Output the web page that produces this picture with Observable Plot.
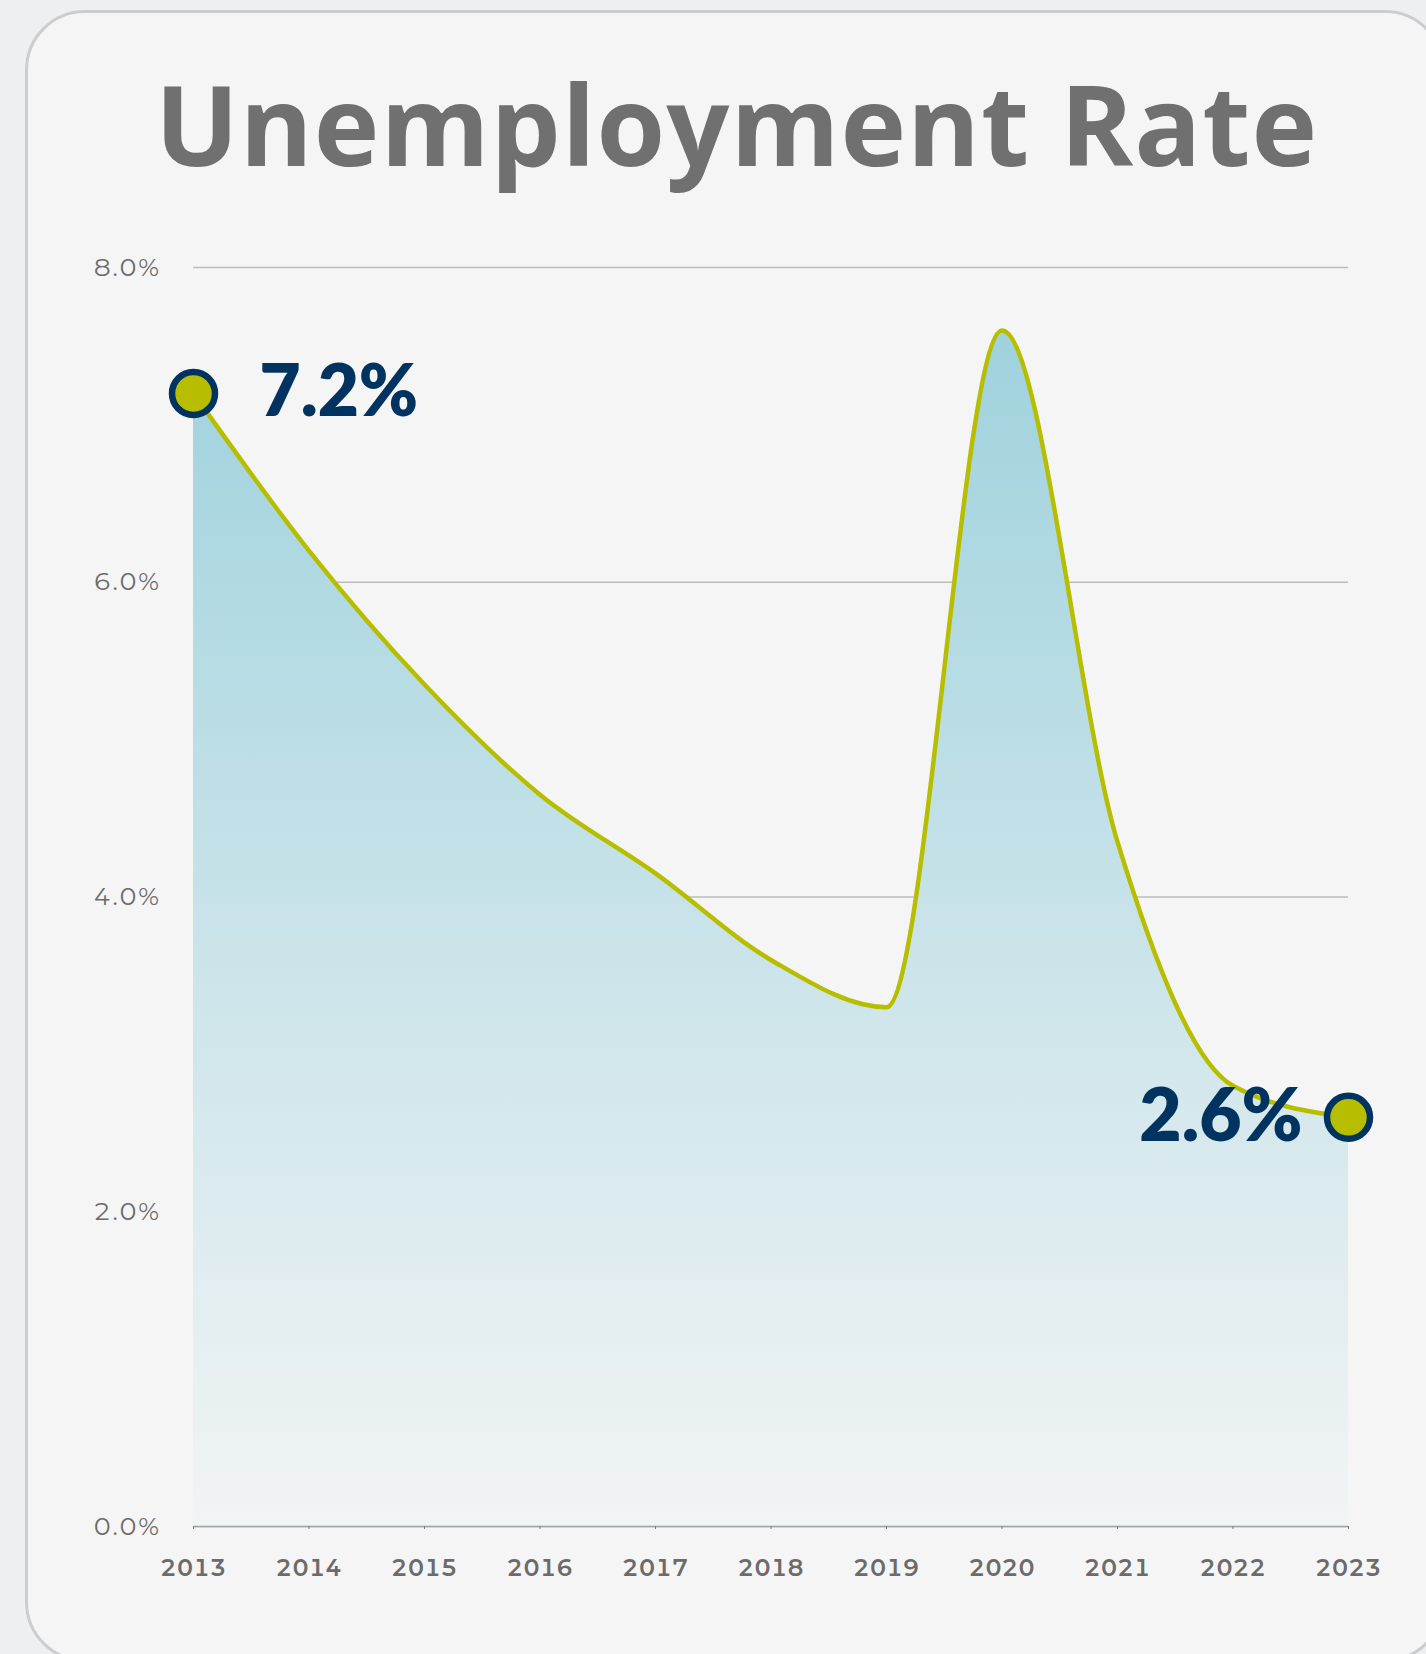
<!DOCTYPE html>
<html>
<head>
<meta charset="utf-8">
<script src="https://cdn.jsdelivr.net/npm/d3@7"></script>
<script src="https://cdn.jsdelivr.net/npm/@observablehq/plot@0.6"></script>
<style>
  html, body { margin: 0; padding: 0; width: 1426px; height: 1654px; overflow: hidden; background: #eeeff1; }
  #card { position: absolute; left: 25px; top: 10px; width: 1420px; height: 1652px; box-sizing: border-box;
          border: 3px solid #cdcdcf; border-radius: 60px; background: #f5f5f5; }
  #title { position: absolute; left: 25px; width: 1423px; top: 68px; text-align: center;
           font-family: "Open Sans", Lato, sans-serif; font-weight: 700; font-size: 111px; line-height: 111px;
           letter-spacing: 1px; color: #6f706f; white-space: nowrap; }
  #chart { position: absolute; left: 0; top: 200px; }
  #chart svg g[aria-label="y-axis tick label"] text { letter-spacing: 1.5px; }
  #chart svg g[aria-label="x-axis tick label"] text { letter-spacing: 0.5px; }
</style>
</head>
<body>
<div id="card"></div>
<div id="title">Unemployment Rate</div>
<div id="chart"></div>
<script>
const years = [2013, 2014, 2015, 2016, 2017, 2018, 2019, 2020, 2021, 2022, 2023];
const rates = [7.2, 6.2, 5.35, 4.65, 4.15, 3.6, 3.3, 7.6, 4.35, 2.8, 2.6];
const yTicks = [0, 2, 4, 6, 8];
const endLabels = ["7.2%", "2.6%"];

const data = years.map((year, i) => ({year, rate: rates[i]}));
const ends = [
  {year: years[0], rate: rates[0], label: endLabels[0]},
  {year: years[years.length - 1], rate: rates[rates.length - 1], label: endLabels[1]}
];

const lineColor = "#b7be00";
const navy = "#00335f";
const tickFont = "Montserrat, 'Open Sans', Lato, sans-serif";

const chart = Plot.plot({
  width: 1426,
  height: 1420,
  marginLeft: 193,
  marginRight: 78,
  marginTop: 67,
  marginBottom: 94,
  style: {background: "transparent", fontFamily: tickFont, color: "#6b6b6b"},
  x: {domain: [2013, 2023]},
  y: {domain: [0, 8]},
  marks: [
    Plot.gridY(yTicks, {stroke: "#bdbdbd", strokeOpacity: 1, strokeWidth: 1.5}),
    Plot.areaY(data, {x: "year", y: "rate", curve: "monotone-x", fill: "url(#areaGrad)"}),
    Plot.ruleY([0], {stroke: "#a3a3a3", strokeWidth: 1.5}),
    Plot.axisY(yTicks, {tickSize: 0, tickPadding: 33, fontSize: 25, tickFormat: d => d.toFixed(1) + "%", label: null}),
    Plot.axisX(years, {tickSize: 3, tickPadding: 30, fontSize: 23, fontWeight: 600, tickFormat: d => String(d), label: null, stroke: "#777"}),
    Plot.lineY(data, {x: "year", y: "rate", curve: "monotone-x", stroke: lineColor, strokeWidth: 4.5}),
    Plot.dot(ends, {x: "year", y: "rate", r: 21.5, fill: lineColor, stroke: navy, strokeWidth: 6.5}),
    Plot.text(ends.slice(0, 1), {x: "year", y: "rate", text: "label", textAnchor: "start", dx: 66, fontSize: 71, fontWeight: 800, fill: navy, fontFamily: "Lato, 'Open Sans', sans-serif"}),
    Plot.text(ends.slice(1), {x: "year", y: "rate", text: "label", textAnchor: "end", dx: -46, fontSize: 73, fontWeight: 800, fill: navy, fontFamily: "Lato, 'Open Sans', sans-serif"})
  ]
});

// gradient definition for the area fill
const ns = "http://www.w3.org/2000/svg";
const defs = document.createElementNS(ns, "defs");
const grad = document.createElementNS(ns, "linearGradient");
grad.setAttribute("id", "areaGrad");
grad.setAttribute("x1", "0"); grad.setAttribute("y1", "0");
grad.setAttribute("x2", "0"); grad.setAttribute("y2", "1");
[["0", "#9fd2dd"], ["1", "#f2f4f5"]].forEach(([o, c]) => {
  const s = document.createElementNS(ns, "stop");
  s.setAttribute("offset", o); s.setAttribute("stop-color", c);
  grad.appendChild(s);
});
defs.appendChild(grad);
chart.insertBefore(defs, chart.firstChild);

document.getElementById("chart").appendChild(chart);
</script>
</body>
</html>
